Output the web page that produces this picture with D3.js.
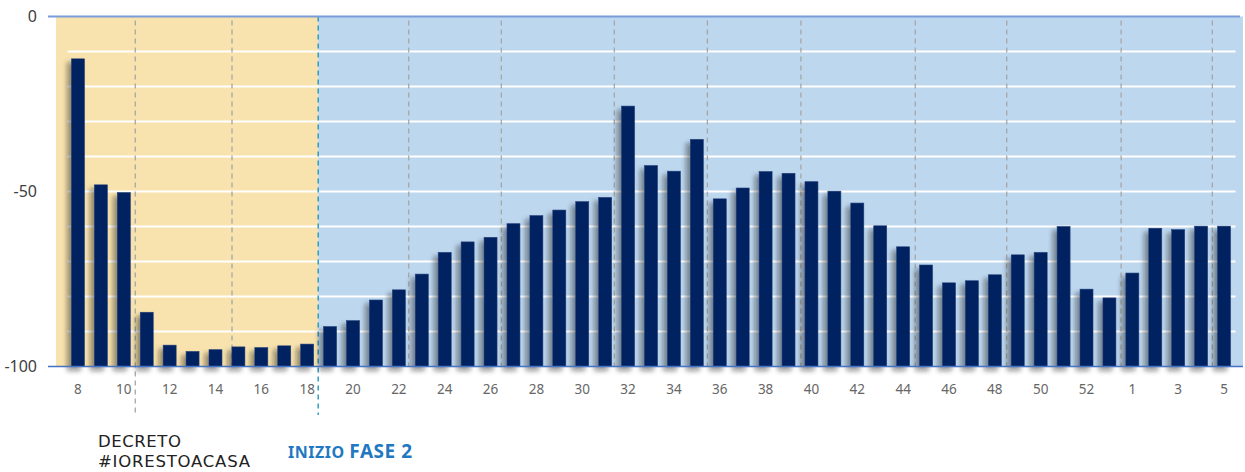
<!DOCTYPE html>
<html>
<head>
<meta charset="utf-8">
<script src="https://cdn.jsdelivr.net/npm/d3@7"></script>
<style>
  body { margin: 0; background: #fff; }
  svg { display: block; }
</style>
</head>
<body>
<script>

    // weeks of the year (2020 -> 2021) and the values
    var weeks = ["8","9","10","11","12","13","14","15","16","17","18","19","20","21","22","23","24","25","26","27",
                 "28","29","30","31","32","33","34","35","36","37","38","39","40","41","42","43","44","45","46","47",
                 "48","49","50","51","52","53","1","2","3","4","5"];

    var values = [-12.1, -48.1, -50.3, -84.5, -93.9, -95.7, -95.2, -94.4, -94.6, -94.1, -93.6,
                  -88.6, -86.9, -81, -78.1, -73.6, -67.4, -64.4, -63.1, -59.2, -56.9, -55.3, -52.9, -51.7,
                  -25.6, -42.6, -44.2, -35.1, -52.1, -49, -44.3, -44.8, -47.2, -49.9, -53.3, -59.8,
                  -65.8, -71, -76.1, -75.5, -73.8, -68.1, -67.4, -60, -77.9, -80.4,
                  -73.3, -60.5, -60.9, -59.9, -59.9];

    var yTicks = [0, -50, -100];
    var gridValues = [-10, -20, -30, -40, -50, -60, -70, -80, -90];

    // dashed separators, in bar positions from the left edge
    var monthLines = [3, 7.22, 14.93, 18.97, 23.9, 27.96, 32.04, 37.03, 41.02, 46.01, 49.99];
    var decretoLine = 3;
    var fase2Line = 10.98;

    var W = 1245, H = 472;
    var plot = {left: 56, right: 1243, top: 17, bottom: 367};

    var svg = d3.select("body")
    .append("svg")
    .attr("width", W)
    .attr("height", H);

    var defs = svg.append("defs");
    var f = defs.append("filter")
    .attr("id", "shadow")
    .attr("x", "-60%").attr("y", "-10%")
    .attr("width", "220%").attr("height", "130%");
    f.append("feDropShadow")
    .attr("dx", -4).attr("dy", 4)
    .attr("stdDeviation", 2.8)
    .attr("flood-color", "#1a1a1a")
    .attr("flood-opacity", 0.45);

    var x = d3.scaleBand()
    .domain(weeks)
    .range([66.5, 1235.5])
    .paddingInner(0.433)
    .paddingOuter(0.2165);

    var y = d3.scaleLinear()
    .domain([-100, 0])
    .range([366.5, 16.5]);

    function linePos(p) { return x.range()[0] + p * x.step(); }

    // background areas
    svg.append("rect")
    .attr("x", plot.left)
    .attr("y", y(0))
    .attr("width", linePos(fase2Line) - plot.left)
    .attr("height", y(-100) - y(0))
    .attr("fill", "#f8e3ae");

    svg.append("rect")
    .attr("x", linePos(fase2Line))
    .attr("y", y(0))
    .attr("width", plot.right - linePos(fase2Line))
    .attr("height", y(-100) - y(0))
    .attr("fill", "#bdd7ee");

    // gridlines
    svg.selectAll("line.grid")
    .data(gridValues)
    .enter().append("line")
    .attr("class", "grid")
    .attr("x1", x.range()[0] + 1)
    .attr("x2", x.range()[1])
    .attr("y1", function(d) { return y(d); })
    .attr("y2", function(d) { return y(d); })
    .attr("stroke", "#fff")
    .attr("stroke-width", 2);

    // month separators
    svg.selectAll("line.month")
    .data(monthLines)
    .enter().append("line")
    .attr("class", "month")
    .attr("x1", function(d) { return linePos(d); })
    .attr("x2", function(d) { return linePos(d); })
    .attr("y1", y(0) + 4)
    .attr("y2", function(d) { return d === decretoLine ? 415 : y(-100); })
    .attr("stroke", "#a6a6a6")
    .attr("stroke-width", 1.3)
    .attr("stroke-dasharray", "5,4");

    svg.append("line")
    .attr("x1", linePos(fase2Line))
    .attr("x2", linePos(fase2Line))
    .attr("y1", y(0))
    .attr("y2", 415)
    .attr("stroke", "#1a8fb8")
    .attr("stroke-width", 1.3)
    .attr("stroke-dasharray", "5,4");

    // bars, from the bottom of the axis up to the value
    svg.append("g")
    .attr("filter", "url(#shadow)")
    .selectAll("rect")
    .data(values)
    .enter().append("rect")
    .attr("x", function(d, i) { return x(weeks[i]); })
    .attr("y", function(d) { return y(d); })
    .attr("width", x.bandwidth())
    .attr("height", function(d) { return y(-100) - y(d); })
    .attr("fill", "#002060")
    .attr("stroke", "#23407a")
    .attr("stroke-width", 0.6);

    // top and bottom lines
    svg.append("line")
    .attr("x1", 48).attr("x2", 1240)
    .attr("y1", y(0)).attr("y2", y(0))
    .attr("stroke", "#7a9cd8")
    .attr("stroke-width", 2);

    svg.append("line")
    .attr("x1", 48).attr("x2", plot.right)
    .attr("y1", y(-100)).attr("y2", y(-100))
    .attr("stroke", "#4472c4")
    .attr("stroke-width", 1.3);

    // y labels
    svg.selectAll("text.ylab")
    .data(yTicks)
    .enter().append("text")
    .attr("class", "ylab")
    .attr("x", 37)
    .attr("y", function(d) { return y(d); })
    .attr("dy", "0.35em")
    .attr("text-anchor", "end")
    .attr("font-family", "Noto Sans, sans-serif")
    .attr("font-size", "16px")
    .attr("fill", "#404040")
    .text(function(d) { return d; });

    // x labels (every other week)
    var xAxis = d3.axisBottom(x)
    .tickValues(weeks.filter(function(d, i) { return i % 2 === 0; }))
    .tickSize(0)
    .tickPadding(18);

    var gx = svg.append("g")
    .attr("transform", "translate(0," + y(-100) + ")")
    .call(xAxis);
    gx.select(".domain").remove();
    gx.selectAll("text")
    .attr("font-family", "Noto Sans, sans-serif")
    .attr("font-size", "13.5px")
    .attr("fill", "#666");

    // annotations
    var ann = svg.append("text")
    .attr("font-family", "DejaVu Sans, sans-serif")
    .attr("font-size", "16.5px")
    .attr("fill", "#222");
    ann.append("tspan").attr("x", 98).attr("y", 447).attr("textLength", 83).text("DECRETO");
    ann.append("tspan").attr("x", 98).attr("y", 467).attr("textLength", 152).text("#IORESTOACASA");

    var fase = svg.append("text")
    .attr("x", 288)
    .attr("y", 458)
    .attr("font-family", "Noto Sans, sans-serif")
    .attr("font-weight", "bold")
    .attr("fill", "#1f78c1")
    .attr("textLength", 124);
    fase.append("tspan").attr("font-size", "16px").text("INIZIO ");
    fase.append("tspan").attr("font-size", "19px").text("FASE 2");

    </script>
</body>
</html>
